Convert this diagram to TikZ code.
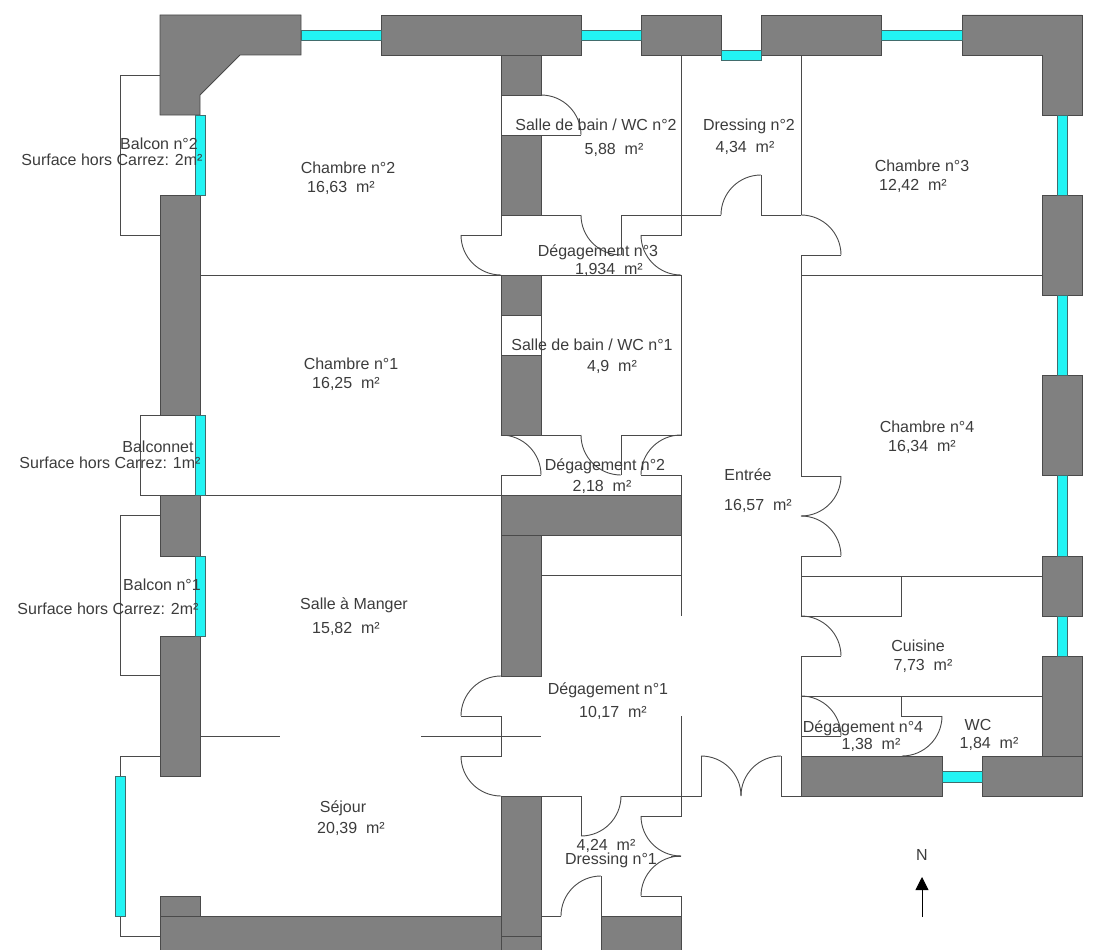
\documentclass[tikz,border=0pt]{standalone}
\usepackage{fontspec}
\setmainfont{Liberation Sans}
\usepackage{tikz}
\usetikzlibrary{arrows.meta}
\definecolor{gris}{HTML}{808080}
\definecolor{trait}{HTML}{4A4A4A}
\definecolor{vitre}{HTML}{22F4F4}
\definecolor{encre}{HTML}{3C3C3C}
\tikzstyle{mur} = [
    fill = gris,
    draw = trait,
    line width = 0.9pt,
]
\tikzstyle{fenetre} = [
    fill = vitre,
    draw = trait!80!vitre,
    line width = 0.8pt,
]
\tikzstyle{cloison} = [
    draw = trait,
    line width = 0.9pt,
]
\tikzstyle{piece} = [
    inner sep = 0pt,
    text height = 14pt,
    text depth = 3pt,
    text = encre,
    font = \fontsize{16}{18}\selectfont,
]

\begin{document}
\begin{tikzpicture} [x = 1pt, y = -1pt]
    \useasboundingbox (0, 0) rectangle (1104, 950);

    % balcons
    \draw[cloison] (160, 75) -- (120, 75) -- (120, 235) -- (160, 235);
    \draw[cloison] (160, 515) -- (120, 515) -- (120, 675) -- (160, 675);
    \draw[cloison] (195, 415) -- (140, 415) -- (140, 495) -- (501, 495);
    \draw[cloison] (160, 756) -- (120, 756) -- (120, 776);
    \draw[cloison] (120, 916) -- (120, 936) -- (160, 936);

    % cloisons
    \draw[cloison] (200, 275) -- (501, 275);
    \draw[cloison] (200, 736) -- (280, 736);
    \draw[cloison] (421, 736) -- (541, 736);
    \draw[cloison] (501, 95) -- (541, 95);
    \draw[cloison] (501, 95) -- (501, 135) -- (581, 135);
    \draw[cloison] (501, 215) -- (501, 235) -- (461, 235);
    \draw[cloison] (541, 215) -- (581, 215);
    \draw[cloison] (621, 255) -- (621, 215) -- (721, 215);
    \draw[cloison] (761, 175) -- (761, 215) -- (801, 215);
    \draw[cloison] (681, 55) -- (681, 235) -- (641, 235);
    \draw[cloison] (801, 55) -- (801, 215);
    \draw[cloison] (841, 255) -- (801, 255) -- (801, 476) -- (841, 476);
    \draw[cloison] (501, 275) -- (681, 275) -- (681, 435) -- (621, 435) -- (621, 475);
    \draw[cloison] (801, 275) -- (1042, 275);
    \draw[cloison] (501, 315) -- (541, 315) -- (541, 355);
    \draw[cloison] (501, 315) -- (501, 355);
    \draw[cloison] (541, 435) -- (581, 435);
    \draw[cloison] (541, 475) -- (501, 475) -- (501, 495);
    \draw[cloison] (641, 475) -- (681, 475) -- (681, 495);
    \draw[cloison] (541, 575) -- (681, 575);
    \draw[cloison] (681, 535) -- (681, 616);
    \draw[cloison] (841, 556) -- (801, 556) -- (801, 616) -- (901, 616) -- (901, 576);
    \draw[cloison] (801, 576) -- (1042, 576);
    \draw[cloison] (841, 656) -- (801, 656) -- (801, 736) -- (841, 736);
    \draw[cloison] (801, 696) -- (1042, 696);
    \draw[cloison] (901, 696) -- (901, 716) -- (942, 716);
    \draw[cloison] (801, 736) -- (801, 796) -- (781, 796) -- (781, 756);
    \draw[cloison] (461, 716) -- (501, 716) -- (501, 756) -- (461, 756);
    \draw[cloison] (541, 796) -- (581, 796) -- (581, 836);
    \draw[cloison] (621, 796) -- (701, 796) -- (701, 756);
    \draw[cloison] (681, 716) -- (681, 816) -- (641, 816);
    \draw[cloison] (641, 896) -- (681, 896) -- (681, 916);
    \draw[cloison] (681, 856) -- (671, 856);
    \draw[cloison] (601, 876) -- (601, 916);
    \draw[cloison] (541, 916) -- (561, 916);

    % portes
    \draw[cloison] (541, 95) arc[start angle = -90, end angle = 0, radius = 40];
    \draw[cloison] (461, 235) arc[start angle = 180, end angle = 90, radius = 40];
    \draw[cloison] (581, 215) arc[start angle = 180, end angle = 90, radius = 40];
    \draw[cloison] (641, 235) arc[start angle = 180, end angle = 90, radius = 40];
    \draw[cloison] (721, 215) arc[start angle = 180, end angle = 270, radius = 40];
    \draw[cloison] (801, 215) arc[start angle = -90, end angle = 0, radius = 40];
    \draw[cloison] (501, 435) arc[start angle = -90, end angle = 0, radius = 40];
    \draw[cloison] (581, 435) arc[start angle = 180, end angle = 90, radius = 40];
    \draw[cloison] (681, 435) arc[start angle = -90, end angle = -180, radius = 40];
    \draw[cloison] (841, 476) arc[start angle = 0, end angle = 90, radius = 40];
    \draw[cloison] (801, 516) arc[start angle = -90, end angle = 0, radius = 40];
    \draw[cloison] (801, 616) arc[start angle = -90, end angle = 0, radius = 40];
    \draw[cloison] (801, 696) arc[start angle = -90, end angle = 0, radius = 40];
    \draw[cloison] (942, 716) arc[start angle = 0, end angle = 90, radius = 40];
    \draw[cloison] (501, 676) arc[start angle = -90, end angle = -180, radius = 40];
    \draw[cloison] (461, 756) arc[start angle = 180, end angle = 90, radius = 40];
    \draw[cloison] (581, 836) arc[start angle = 90, end angle = 0, radius = 40];
    \draw[cloison] (701, 756) arc[start angle = -90, end angle = 0, radius = 40];
    \draw[cloison] (781, 756) arc[start angle = -90, end angle = -180, radius = 40];
    \draw[cloison] (641, 816) arc[start angle = 180, end angle = 90, radius = 40];
    \draw[cloison] (681, 856) arc[start angle = -90, end angle = -180, radius = 40];
    \draw[cloison] (601, 876) arc[start angle = -90, end angle = -180, radius = 40];

    % murs
    \draw[mur] (160, 15) -- (301, 15) -- (301, 55) -- (240, 55) -- (200, 95) -- (200, 115) -- (160, 115) -- cycle;
    \draw[mur] (381, 15) rectangle (581, 55);
    \draw[mur] (641, 15) rectangle (721, 55);
    \draw[mur] (761, 15) rectangle (881, 55);
    \draw[mur] (962, 15) -- (1082, 15) -- (1082, 115) -- (1042, 115) -- (1042, 55) -- (962, 55) -- cycle;
    \draw[mur] (1042, 195) rectangle (1082, 295);
    \draw[mur] (1042, 375) rectangle (1082, 475);
    \draw[mur] (1042, 556) rectangle (1082, 616);
    \draw[mur] (1042, 656) rectangle (1082, 756);
    \draw[mur] (982, 756) rectangle (1082, 796);
    \draw[mur] (801, 756) rectangle (942, 796);
    \draw[mur] (160, 195) rectangle (200, 415);
    \draw[mur] (160, 495) rectangle (200, 556);
    \draw[mur] (160, 636) rectangle (200, 776);
    \draw[mur] (160, 896) rectangle (200, 916);
    \draw[mur] (160, 916) rectangle (501, 950);
    \draw[mur] (501, 55) rectangle (541, 95);
    \draw[mur] (501, 135) rectangle (541, 215);
    \draw[mur] (501, 275) rectangle (541, 315);
    \draw[mur] (501, 355) rectangle (541, 435);
    \draw[mur] (501, 495) rectangle (681, 535);
    \draw[mur] (501, 535) rectangle (541, 676);
    \draw[mur] (501, 796) rectangle (541, 936);
    \draw[mur] (501, 936) rectangle (541, 950);
    \draw[mur] (601, 916) rectangle (681, 950);

    % fenetres
    \draw[fenetre] (301, 30) rectangle (381, 40);
    \draw[fenetre] (581, 30) rectangle (641, 40);
    \draw[fenetre] (721, 50) rectangle (761, 60);
    \draw[fenetre] (881, 30) rectangle (962, 40);
    \draw[fenetre] (1057, 115) rectangle (1067, 195);
    \draw[fenetre] (1057, 295) rectangle (1067, 375);
    \draw[fenetre] (1057, 475) rectangle (1067, 556);
    \draw[fenetre] (1057, 616) rectangle (1067, 656);
    \draw[fenetre] (942, 771) rectangle (982, 782);
    \draw[fenetre] (195, 115) rectangle (205, 195);
    \draw[fenetre] (195, 415) rectangle (205, 495);
    \draw[fenetre] (195, 556) rectangle (205, 636);
    \draw[fenetre] (115, 776) rectangle (125, 916);

    % textes
    \node (BalconDeux) [piece] at (159, 144) {Balcon n°2};
    \node (SurfaceDeux) [piece] at (112, 160) {Surface hors Carrez: 2m²};
    \node (ChambreDeux) [piece] at (348, 168) {Chambre n°2};
    \node (AireChambreDeux) [piece] at (341, 187) {16,63~~m²};
    \node (BainDeux) [piece] at (596, 125) {Salle de bain / WC n°2};
    \node (AireBainDeux) [piece] at (614, 149) {5,88~~m²};
    \node (DressingDeux) [piece] at (749, 125) {Dressing n°2};
    \node (AireDressingDeux) [piece] at (745, 147) {4,34~~m²};
    \node (ChambreTrois) [piece] at (922, 166) {Chambre n°3};
    \node (AireChambreTrois) [piece] at (913, 185) {12,42~~m²};
    \node (DegagementTrois) [piece] at (598, 251) {Dégagement n°3};
    \node (AireDegagementTrois) [piece] at (609, 269) {1,934~~m²};
    \node (ChambreUn) [piece] at (351, 364) {Chambre n°1};
    \node (AireChambreUn) [piece] at (346, 383) {16,25~~m²};
    \node (BainUn) [piece] at (592, 345) {Salle de bain / WC n°1};
    \node (AireBainUn) [piece] at (612, 366) {4,9~~m²};
    \node (ChambreQuatre) [piece] at (927, 427) {Chambre n°4};
    \node (AireChambreQuatre) [piece] at (922, 446) {16,34~~m²};
    \node (Balconnet) [piece] at (158, 447) {Balconnet};
    \node (SurfaceBalconnet) [piece] at (110, 463) {Surface hors Carrez: 1m²};
    \node (DegagementDeux) [piece] at (605, 465) {Dégagement n°2};
    \node (AireDegagementDeux) [piece] at (602, 486) {2,18~~m²};
    \node (Entree) [piece] at (748, 475) {Entrée};
    \node (AireEntree) [piece] at (758, 505) {16,57~~m²};
    \node (BalconUn) [piece] at (162, 585) {Balcon n°1};
    \node (SurfaceUn) [piece] at (108, 609) {Surface hors Carrez: 2m²};
    \node (Manger) [piece] at (354, 604) {Salle à Manger};
    \node (AireManger) [piece] at (346, 628) {15,82~~m²};
    \node (Cuisine) [piece] at (918, 646) {Cuisine};
    \node (AireCuisine) [piece] at (923, 665) {7,73~~m²};
    \node (DegagementUn) [piece] at (608, 689) {Dégagement n°1};
    \node (AireDegagementUn) [piece] at (613, 712) {10,17~~m²};
    \node (DegagementQuatre) [piece] at (863, 727) {Dégagement n°4};
    \node (AireDegagementQuatre) [piece] at (871, 744) {1,38~~m²};
    \node (WC) [piece] at (978, 725) {WC};
    \node (AireWC) [piece] at (989, 743) {1,84~~m²};
    \node (Sejour) [piece] at (343, 807) {Séjour};
    \node (AireSejour) [piece] at (351, 828) {20,39~~m²};
    \node (AireDressingUn) [piece] at (606, 845) {4,24~~m²};
    \node (DressingUn) [piece] at (611, 859) {Dressing n°1};

    % nord
    \node (Nord) [piece] at (922, 855) {N};
    \coordinate (BasNord) at (922, 917);
    \draw[cloison, -{Triangle[length = 13pt, width = 13pt]}, black] (BasNord) -- (922, 877);
\end{tikzpicture}
\end{document}
